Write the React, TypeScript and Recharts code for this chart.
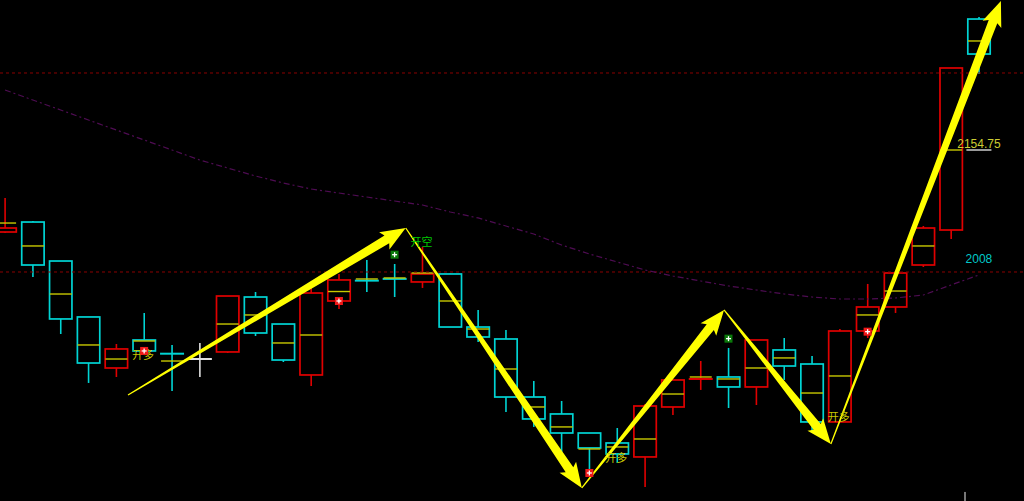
import { ComposedChart, Bar, Line, XAxis, YAxis, ReferenceLine, ReferenceDot } from 'recharts';

// candle values, one entry per bar (left to right)
const OPEN = [2056.1, 2068.1, 2021.2, 1953.9, 1892.5, 1926.2, 1910.0, 1903.3, 1911.8, 1977.9, 1945.4, 1884.1, 1973.1, 1998.0, 2000.0, 1996.0, 2005.6, 1941.8, 1927.4, 1857.6, 1837.2, 1814.3, 1802.3, 1785.5, 1845.6, 1878.1, 1881.7, 1869.7, 1914.2, 1897.3, 1827.6, 1937.0, 1965.9, 2016.4, 2058.5, 2312.3];
const HIGH = [2097.0, 2069.3, 2021.2, 1953.9, 1921.4, 1958.7, 1920.2, 1922.6, 1979.1, 1983.9, 1945.4, 1988.8, 2005.6, 2022.4, 2017.6, 2038.1, 2006.0, 1962.3, 1938.2, 1876.9, 1852.8, 1814.3, 1820.3, 1849.2, 1878.1, 1900.9, 1916.6, 1926.2, 1928.6, 1907.0, 1939.4, 1993.6, 2008.0, 2063.3, 2253.4, 2314.7];
const LOW = [2054.9, 2002.0, 1933.4, 1874.5, 1881.7, 1913.0, 1864.9, 1881.7, 1910.6, 1931.0, 1899.7, 1870.9, 1963.5, 1983.9, 1977.9, 1988.8, 1941.8, 1923.8, 1839.6, 1821.6, 1791.5, 1769.8, 1778.2, 1749.4, 1836.0, 1866.1, 1844.4, 1848.0, 1878.1, 1816.7, 1827.6, 1928.6, 1958.7, 2014.0, 2047.7, 2246.2];
const CLOSE = [2060.9, 2016.4, 1951.5, 1898.5, 1915.4, 1913.0, 1909.4, 1903.3, 1979.1, 1934.6, 1902.1, 1982.7, 1998.4, 1997.2, 1999.4, 2005.6, 1941.8, 1929.8, 1857.6, 1831.2, 1814.3, 1796.3, 1789.1, 1846.8, 1878.1, 1880.5, 1869.7, 1926.2, 1894.9, 1827.6, 1937.0, 1965.9, 2006.8, 2060.9, 2253.4, 2270.2];
const AVG = [2066.9, 2039.3, 1981.5, 1920.2, 1903.3, 1925.0, 1900.9, null, 1945.4, 1956.3, 1922.6, 1932.2, 1984.5, 1999.6, 2000.8, 2006.8, 1973.1, 1939.4, 1891.3, 1845.6, 1821.6, 1795.1, 1797.5, 1807.1, 1861.2, 1881.7, 1879.3, 1892.5, 1904.6, 1862.4, 1882.9, 1956.3, 1985.1, 2039.3, 2154.75, 2285.9];
// slow moving average (dash-dot purple)
const MA = [2226.9, 2214.9, 2202.9, 2190.8, 2178.8, 2166.8, 2154.8, 2142.7, 2133.1, 2123.5, 2115.1, 2107.8, 2103.0, 2098.2, 2093.4, 2088.6, 2080.2, 2073.0, 2063.3, 2053.7, 2040.5, 2029.7, 2020.0, 2010.4, 2003.2, 1997.2, 1991.2, 1986.3, 1981.5, 1977.9, 1975.5, 1975.5, 1976.7, 1980.3, 1992.4, 2004.4];

// zig-zag arrow vertices (bar index, price)
const ARROW_X = [4.42, 14.4, 20.73, 25.84, 29.68, 35.79];
const ARROW_Y = [1860.0, 2060.9, 1748.2, 1962.3, 1801.1, 2334.0];

// dashed price levels
const LEVELS = [2247.4, 2008];
const LAST_PRICE = 2154.75;

// signal markers
const LONG_X = [5, 12, 21, 31];
const LONG_Y = [1913.0, 1973.1, 1766.2, 1936.2];
const SHORT_X = [14, 26];
const SHORT_Y = [2028.8, 1927.8];

// signal text tags
const TAG_TEXT = ['开多', '开空', '开多', '开多'];
const TAG_X = [5, 15, 22, 30];
const TAG_Y = [1909.4, 2045.3, 1785.5, 1834.8];

const RED = '#e00000';
const CYAN = '#00d4d4';
const WHITE = '#e0e0e0';
const YELLOW = '#c8c800';

const data = OPEN.map((o, i) => ({
  i,
  range: [LOW[i], HIGH[i]],
  o,
  h: HIGH[i],
  l: LOW[i],
  c: CLOSE[i],
  avg: AVG[i],
  ma: MA[i],
}));

const TICKS = OPEN.map((_, i) => i);

function Candle(props: any) {
  const { x, y, width, height, payload } = props;
  if (payload == null || height == null) return null;
  const { o, h, l, c, avg } = payload;
  const k = height / (h - l);
  const py = (v: number) => y + (h - v) * k;
  const color = c > o ? RED : c < o ? CYAN : WHITE;
  const cx = x + width / 2;
  const top = py(Math.max(o, c));
  const bot = py(Math.min(o, c));
  const flat = bot - top < 2;
  return (
    <g>
      <line x1={cx} x2={cx} y1={y} y2={y + height} stroke={color} strokeWidth={1.6} />
      {flat ? (
        <line x1={x} x2={x + width} y1={(top + bot) / 2} y2={(top + bot) / 2} stroke={color} strokeWidth={2} />
      ) : (
        <rect x={x + 0.8} y={top} width={width - 1.6} height={bot - top} fill="#000" stroke={color} strokeWidth={1.7} />
      )}
      {avg != null && (
        <line x1={x + 1} x2={x + width - 1} y1={py(avg)} y2={py(avg)} stroke={YELLOW} strokeWidth={1.4} />
      )}
    </g>
  );
}

function Arrow(props: any) {
  const { x1, y1, x2, y2 } = props;
  const dx = x2 - x1;
  const dy = y2 - y1;
  const len = Math.hypot(dx, dy);
  if (!len) return null;
  const ux = dx / len;
  const uy = dy / len;
  const nx = -uy;
  const ny = ux;
  const hl = 22;
  const hw = 10;
  const w0 = 0.6;
  const w1 = 4.6;
  const bx = x2 - ux * hl;
  const by = y2 - uy * hl;
  const pts = [
    [x1 + nx * w0, y1 + ny * w0],
    [bx + nx * w1, by + ny * w1],
    [bx + nx * hw - ux * 3, by + ny * hw - uy * 3],
    [x2, y2],
    [bx - nx * hw - ux * 3, by - ny * hw - uy * 3],
    [bx - nx * w1, by - ny * w1],
    [x1 - nx * w0, y1 - ny * w0],
  ];
  return <polygon points={pts.map((p) => p.join(',')).join(' ')} fill="#ffff00" />;
}

function Marker({ cx, cy, fill }: any) {
  return (
    <g>
      <rect x={cx - 4} y={cy - 4} width={8} height={8} fill={fill} />
      <line x1={cx - 2.5} x2={cx + 2.5} y1={cy} y2={cy} stroke="#fff" strokeWidth={1.3} />
      <line x1={cx} x2={cx} y1={cy - 2.5} y2={cy + 2.5} stroke="#fff" strokeWidth={1.3} />
    </g>
  );
}

export default function App() {
  return (
    <div style={{ width: 1024, height: 501, background: '#000' }}>
      <style>{`body{margin:0;background:#000}`}</style>
      <ComposedChart width={1024} height={501} data={data} margin={{ top: 0, right: 0, bottom: 0, left: 0 }}>
        <XAxis type="number" dataKey="i" domain={[-0.18, 36.62]} ticks={TICKS} hide allowDataOverflow />
        <YAxis type="number" domain={[1732.5, 2335.2]} hide allowDataOverflow />

        {LEVELS.map((v) => (
          <ReferenceLine key={v} y={v} stroke="#8b0000" strokeDasharray="3 3" strokeWidth={1} />
        ))}

        <Line dataKey="ma" stroke="#4e0c52" strokeWidth={1.2} strokeDasharray="6 3 2 3" dot={false} activeDot={false} isAnimationActive={false} />

        <Bar dataKey="range" barSize={24} shape={Candle} activeBar={false} isAnimationActive={false} />

        <ReferenceLine
          segment={[{ x: 34.55, y: LAST_PRICE }, { x: 35.45, y: LAST_PRICE }]}
          stroke="#9a9a9a"
          strokeWidth={2}
        />
        <ReferenceLine
          segment={[{ x: 34.5, y: 1743.4 }, { x: 34.5, y: 1732.5 }]}
          stroke="#777"
          strokeWidth={2}
        />

        <ReferenceDot
          x={35}
          y={LEVELS[1]}
          r={0}
          shape={(p: any) => (
            <text x={p.cx} y={p.cy - 13} textAnchor="middle" dominantBaseline="central" fill="#00c8c8" fontSize={12} fontFamily="Liberation Sans, Arial, sans-serif">
              {LEVELS[1]}
            </text>
          )}
        />
        <ReferenceDot
          x={35}
          y={LAST_PRICE}
          r={0}
          shape={(p: any) => (
            <text x={p.cx} y={p.cy - 6.5} textAnchor="middle" dominantBaseline="central" fill="#cccc33" fontSize={12} fontFamily="Liberation Sans, Arial, sans-serif">
              {LAST_PRICE}
            </text>
          )}
        />

        {TAG_TEXT.map((t, k) => (
          <ReferenceDot
            key={'tag' + k}
            x={TAG_X[k]}
            y={TAG_Y[k]}
            r={0}
            shape={(p: any) => (
              <text x={p.cx - 1} y={p.cy} textAnchor="middle" dominantBaseline="central" fill={t === '开空' ? '#00c800' : YELLOW} fontSize={11} fontFamily="Noto Sans CJK SC">
                {t}
              </text>
            )}
          />
        ))}

        {LONG_X.map((x, k) => (
          <ReferenceDot key={'l' + k} x={x} y={LONG_Y[k]} r={0} shape={(p: any) => <Marker cx={p.cx} cy={p.cy} fill="#f01818" />} />
        ))}
        {SHORT_X.map((x, k) => (
          <ReferenceDot key={'s' + k} x={x} y={SHORT_Y[k]} r={0} shape={(p: any) => <Marker cx={p.cx} cy={p.cy} fill="#0a7a0a" />} />
        ))}

        {ARROW_X.slice(1).map((x, k) => (
          <ReferenceLine
            key={'a' + k}
            segment={[{ x: ARROW_X[k], y: ARROW_Y[k] }, { x, y: ARROW_Y[k + 1] }]}
            shape={Arrow}
          />
        ))}
      </ComposedChart>
    </div>
  );
}
